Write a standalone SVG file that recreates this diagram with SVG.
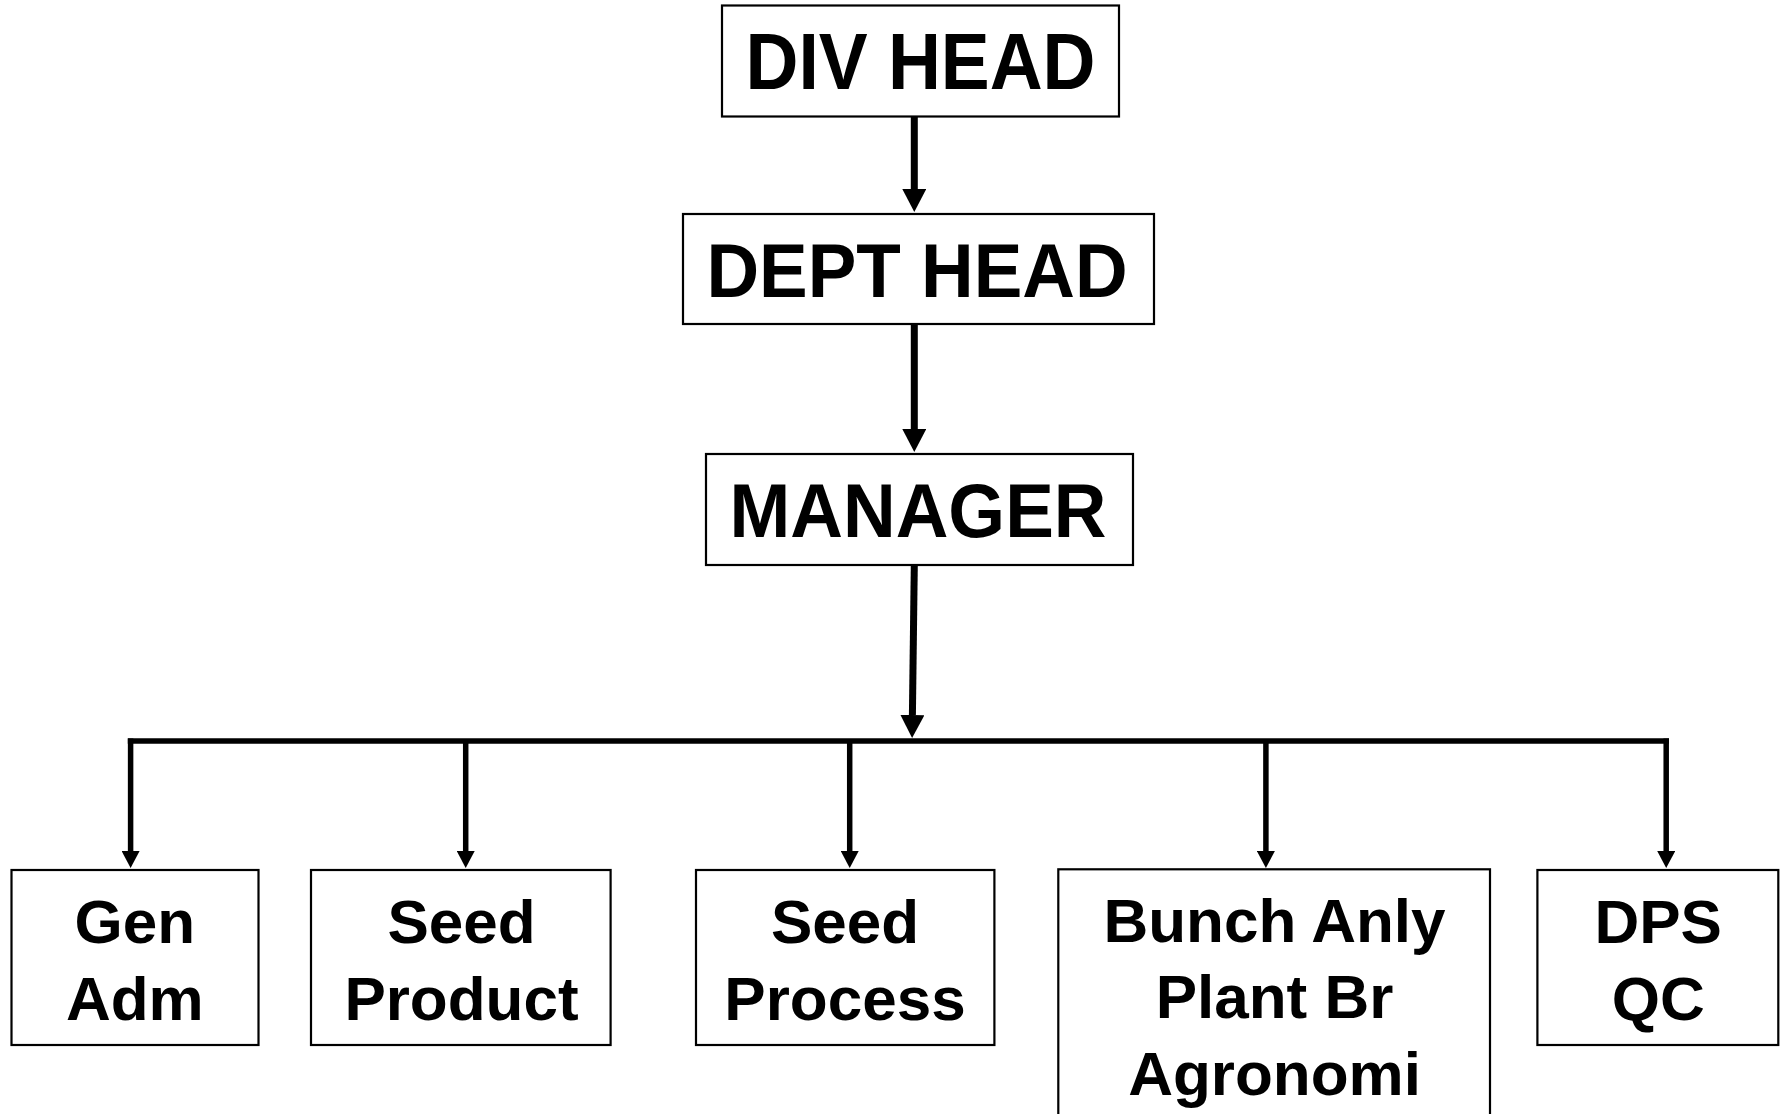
<svg xmlns="http://www.w3.org/2000/svg" width="1781" height="1114" viewBox="0 0 1781 1114">
<style>
.box{fill:#fff;stroke:#000;stroke-width:2.2}
.t{font-family:"Liberation Sans",Arial,sans-serif;font-weight:bold;fill:#000;text-anchor:middle}
.big{font-size:76px}
.sm{font-size:62px}
.c1{fill:none;stroke:#000;stroke-width:7}
.c2{fill:none;stroke:#000;stroke-width:5.5}
</style>
<defs>
<marker id="ah1" markerUnits="userSpaceOnUse" viewBox="0 0 23 24" markerWidth="23" markerHeight="24" refX="0" refY="12" orient="auto"><path d="M0,0 L23,12 L0,24 z" fill="#000"/></marker>
<marker id="ah2" markerUnits="userSpaceOnUse" viewBox="0 0 17 18" markerWidth="17" markerHeight="18" refX="0" refY="9" orient="auto"><path d="M0,0 L17,9 L0,18 z" fill="#000"/></marker>
</defs>
<rect width="1781" height="1114" fill="#fff"/>
<g id="connectors">
<path class="c1" d="M914.3,117 V189" marker-end="url(#ah1)"/>
<path class="c1" d="M914.3,324 V429" marker-end="url(#ah1)"/>
<path class="c1" d="M914.3,565 L912.4,715" marker-end="url(#ah1)"/>
<path class="c2" d="M127.8,741 H1669"/>
<path class="c2" d="M130.6,738.5 V851" marker-end="url(#ah2)"/>
<path class="c2" d="M465.7,741 V851" marker-end="url(#ah2)"/>
<path class="c2" d="M849.7,741 V851" marker-end="url(#ah2)"/>
<path class="c2" d="M1265.9,741 V851" marker-end="url(#ah2)"/>
<path class="c2" d="M1666.2,738.5 V851" marker-end="url(#ah2)"/>
</g>
<g id="div-head">
<rect class="box" x="722" y="5.5" width="397" height="111"/>
<text class="t" x="920.5" y="89" style="font-size:80px" textLength="350" lengthAdjust="spacingAndGlyphs">DIV HEAD</text>
</g>
<g id="dept-head">
<rect class="box" x="683" y="214" width="471" height="110"/>
<text class="t big" x="917" y="296.7" textLength="421" lengthAdjust="spacingAndGlyphs">DEPT HEAD</text>
</g>
<g id="manager">
<rect class="box" x="706" y="454" width="427" height="111"/>
<text class="t big" x="918" y="536.7" textLength="377" lengthAdjust="spacingAndGlyphs">MANAGER</text>
</g>
<g id="gen-adm">
<rect class="box" x="11.5" y="870" width="247" height="175"/>
<text class="t sm" x="134.8" y="942.5">Gen</text>
<text class="t sm" x="134.8" y="1019.5">Adm</text>
</g>
<g id="seed-product">
<rect class="box" x="311" y="870" width="299.6" height="175"/>
<text class="t sm" x="461.5" y="942.5">Seed</text>
<text class="t sm" x="461.5" y="1019.5">Product</text>
</g>
<g id="seed-process">
<rect class="box" x="696" y="870" width="298.4" height="175"/>
<text class="t sm" x="845" y="942.5">Seed</text>
<text class="t sm" x="845" y="1019.5">Process</text>
</g>
<g id="bunch-anly">
<rect class="box" x="1058.3" y="869.3" width="431.7" height="260"/>
<text class="t sm" x="1274.5" y="941.7">Bunch Anly</text>
<text class="t sm" x="1274.5" y="1018.3">Plant Br</text>
<text class="t sm" x="1274.5" y="1095">Agronomi</text>
</g>
<g id="dps-qc">
<rect class="box" x="1537.4" y="870" width="240.9" height="175"/>
<text class="t sm" x="1658.2" y="942.5">DPS</text>
<text class="t sm" x="1658.2" y="1019.5">QC</text>
</g>
</svg>
